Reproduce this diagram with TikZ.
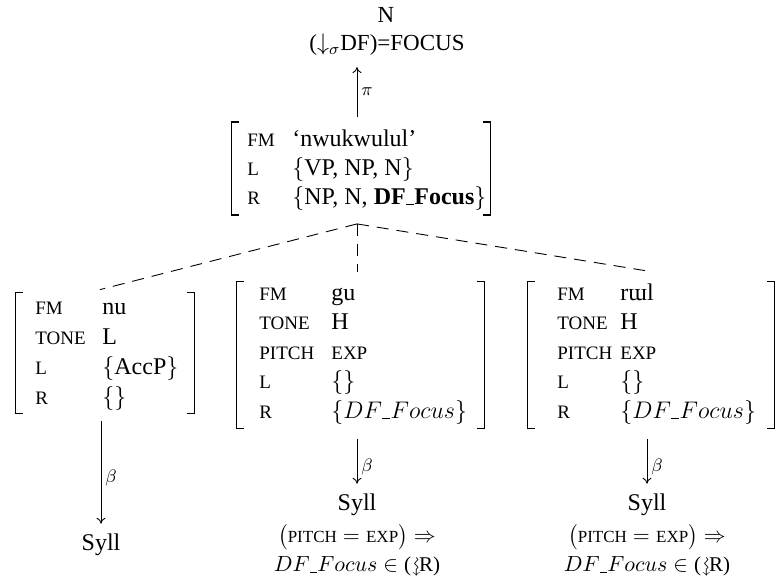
\documentclass[tikz,border=0pt]{standalone}
\usepackage{amsmath,amssymb}
\usepackage{fontspec}
\setmainfont{Liberation Serif}
\usetikzlibrary{arrows.meta}
\newcommand{\fsc}[1]{{\fontsize{9.5}{10}\selectfont #1}}
\newcommand{\bsc}[1]{{\fontsize{8.5}{9}\selectfont #1}}
\newcommand{\us}{\kern0.01em\rule[-0.06em]{0.34em}{0.045em}\kern0.01em}
\newcommand{\squigdown}{\raisebox{0.05ex}{\rotatebox[origin=c]{-90}{$\rightsquigarrow$}}}
\newcommand{\avmbr}[1]{%
  \draw[bracket] ([xshift=3.5pt]#1.north west) -- (#1.north west) -- (#1.south west) -- ([xshift=3.5pt]#1.south west);
  \draw[bracket] ([xshift=-3.5pt]#1.north east) -- (#1.north east) -- (#1.south east) -- ([xshift=-3.5pt]#1.south east);}
\begin{document}
\begin{tikzpicture}[x=0.5pt,y=-0.5pt,
  font=\fontsize{12}{14}\selectfont,
  avmbox/.style={rectangle, inner sep=0pt, draw=none},
  lab/.style={anchor=base west, inner sep=0pt, font=\fontsize{9.5}{10}\selectfont},
  val/.style={anchor=base west, inner sep=0pt},
  txt/.style={inner sep=0pt},
  toptxt/.style={inner sep=0pt, font=\fontsize{11.5}{13}\selectfont},
  low/.style={inner sep=0pt, font=\fontsize{10.5}{12}\selectfont},
  bracket/.style={line width=0.7pt, line cap=rect},
  arr/.style={-{To[length=3pt,width=4.5pt]}, line width=0.45pt},
  dashline/.style={dash pattern=on 6pt off 4pt, line width=0.45pt},
  lbl/.style={inner sep=2pt, font=\fontsize{9}{10}\selectfont}]
\useasboundingbox (0,0) rectangle (776,580);

% top text
\node[toptxt] (topN) at (386,15) {N};
\node[toptxt] (topF) at (387,45) {($\downarrow_{\sigma}$DF)=FOCUS};

% top AVM
\node[avmbox, minimum width=129pt, minimum height=46pt] (T) at (361,168.5) {};
\avmbr{T}
\node[lab] (Tl1) at (247,146) {FM};
\node[val] (Tv1) at (292,146) {`nwukwulul'};
\node[lab] (Tl2) at (247,175) {L};
\node[val] (Tv2) at (292,175) {$\{$VP, NP, N$\}$};
\node[lab] (Tl3) at (247,204) {R};
\node[val] (Tv3) at (292,204) {$\{$NP, N, \textbf{DF\us Focus}$\}$};

\draw[arr] ([xshift=-2pt,yshift=2.5pt]T.north) -- ([xshift=-2pt,yshift=27.5pt]T.north)
  node[midway,right,lbl] {$\pi$};

% left AVM
\node[avmbox, minimum width=89pt, minimum height=60pt] (L) at (105,353) {};
\avmbr{L}
\node[lab] (Ll1) at (35,314) {FM};
\node[val] (Lv1) at (102,314) {nu};
\node[lab] (Ll2) at (35,344) {TONE};
\node[val] (Lv2) at (102,344) {L};
\node[lab] (Ll3) at (35,374) {L};
\node[val] (Lv3) at (102,374) {$\{$AccP$\}$};
\node[lab] (Ll4) at (35,404) {R};
\node[val] (Lv4) at (102,404) {$\{\}$};

% centre AVM
\node[avmbox, minimum width=123.5pt, minimum height=73pt] (C) at (360.5,355) {};
\avmbr{C}
\node[lab] (Cl1) at (259,300) {FM};
\node[val] (Cv1) at (331,300) {gu};
\node[lab] (Cl2) at (259,329.5) {TONE};
\node[val] (Cv2) at (331,329.5) {H};
\node[lab] (Cl3) at (259,359) {PITCH};
\node[val] (Cv3) at (331,359) {\fsc{EXP}};
\node[lab] (Cl4) at (259,388.5) {L};
\node[val] (Cv4) at (331,388.5) {$\{\}$};
\node[lab] (Cl5) at (259,418) {R};
\node[val] (Cv5) at (331,418) {$\{DF\us Focus\}$};

% right AVM
\node[avmbox, minimum width=123pt, minimum height=73pt] (R) at (651,355) {};
\avmbr{R}
\node[lab] (Rl1) at (557,300) {FM};
\node[val] (Rv1) at (620,300) {rɯl};
\node[lab] (Rl2) at (557,329.5) {TONE};
\node[val] (Rv2) at (620,329.5) {H};
\node[lab] (Rl3) at (557,359) {PITCH};
\node[val] (Rv3) at (620,359) {\fsc{EXP}};
\node[lab] (Rl4) at (557,388.5) {L};
\node[val] (Rv4) at (620,388.5) {$\{\}$};
\node[lab] (Rl5) at (557,418) {R};
\node[val] (Rv5) at (620,418) {$\{DF\us Focus\}$};

% dashed tree lines
\draw[dashline] ([xshift=-2pt,yshift=-4.5pt]T.south) -- ([xshift=-2.5pt,yshift=1.5pt]L.north);
\draw[dashline] ([xshift=-2pt,yshift=-4.5pt]T.south) -- ([xshift=-1.75pt,yshift=5pt]C.north);
\draw[dashline] ([xshift=-2pt,yshift=-4.5pt]T.south) -- ([xshift=-3pt,yshift=5.5pt]R.north);

% bottom texts
\node[txt] (SL) at (101,545) {Syll};
\node[txt] (SC) at (357,505) {Syll};
\node[low] (SC2) at (357,537) {$\bigl(\text{\bsc{PITCH}} = \text{\bsc{EXP}}\bigr) \Rightarrow$};
\node[low] (SC3) at (357,567) {$DF\us Focus \in{}$(\squigdown R)};
\node[txt] (SR) at (647,505) {Syll};
\node[low] (SR2) at (647,537) {$\bigl(\text{\bsc{PITCH}} = \text{\bsc{EXP}}\bigr) \Rightarrow$};
\node[low] (SR3) at (647,567) {$DF\us Focus \in{}$(\squigdown R)};

% beta arrows
\draw[arr, shorten >=5pt] ([xshift=-2pt,yshift=-4pt]L.south) -- (SL.north)
  node[midway,right,lbl] {$\beta$};
\draw[arr, shorten >=5pt] ([xshift=-1.75pt,yshift=-5.5pt]C.south) -- (SC.north)
  node[midway,right,lbl] {$\beta$};
\draw[arr, shorten >=5pt] ([xshift=-2pt,yshift=-5.5pt]R.south) -- (SR.north)
  node[midway,right,lbl] {$\beta$};
\end{tikzpicture}
\end{document}
